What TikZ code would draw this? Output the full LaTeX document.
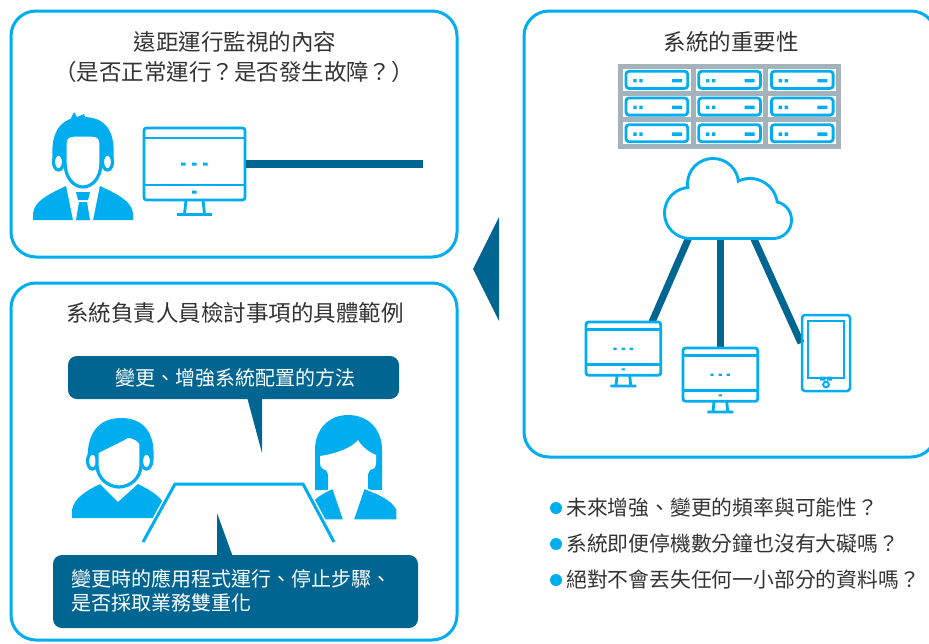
\documentclass[tikz,border=0pt]{standalone}
\usepackage{fontspec}
\setmainfont{Noto Sans CJK TC}
\definecolor{sky}{RGB}{0,174,239}
\definecolor{deep}{RGB}{0,102,145}
\definecolor{rackgray}{RGB}{164,178,188}
\definecolor{ink}{RGB}{51,51,51}

\tikzset{
  iconline/.style={draw=sky, line width=2.8pt},
  monitor/.pic={
    \draw[iconline, rounded corners=2.5pt] (0,0) rectangle (101,72);
    \draw[iconline] (0,10) -- (101,10) (0,57) -- (101,57);
    \fill[sky] (37,34.5) rectangle (41.5,37.5)
               (48,34.5) rectangle (52.5,37.5)
               (59,34.5) rectangle (63.5,37.5)
               (48,62.5) rectangle (52.5,65.5);
    \draw[iconline] (42,72) -- (40.5,86) (59,72) -- (60.5,86) (33,86.5) -- (68,86.5);
  },
  server/.pic={
    \fill[white] (0,0) rectangle (67.7,21.7);
    \draw[iconline, rounded corners=3pt] (3,2.3) rectangle (64.7,19.4);
    \fill[sky] (10.3,10) rectangle (13.7,13.4)
               (16.3,10) rectangle (19.7,13.4)
               (49,10) rectangle (59,13.4);
  },
}

\begin{document}
\begin{tikzpicture}[x=1pt, y=-1pt,
  panel/.style={draw=sky, line width=3pt, rounded corners=25pt},
  heading/.style={text=ink, inner sep=0pt, font=\fontsize{22.5}{27}\selectfont},
  bubbletext/.style={text=white, inner sep=0pt, font=\fontsize{20}{24}\selectfont},
  bullettext/.style={text=ink, inner sep=0pt, anchor=west, font=\fontsize{20.8}{25}\selectfont},
  link/.style={draw=deep, line width=7pt},
  bubble/.style={fill=deep, rounded corners=9pt},
  face/.style={fill=white, draw=sky, line width=3.2pt},
]
\useasboundingbox (0,0) rectangle (929,643);
\clip (0,0) rectangle (929,643);

% ---------- panel: remote monitoring ----------
\draw[panel] (11,11) rectangle (457,257);
\node[heading] (monTitleA) at (235,42) {遠距運行監視的內容};
\node[heading] (monTitleB) at (234,72) {（是否正常運行？是否發生故障？）};

% operator in suit
\fill[sky] (33,220) -- (33,213) .. controls (35,201) and (47,195) .. (66,186) -- (100,186)
  .. controls (119,195) and (131,201) .. (133,213) -- (133,220) -- cycle;
\fill[white] (66,185) -- (100,185) -- (93,220) -- (73,220) -- cycle;
\fill[sky] (76,192) -- (90,192) -- (88,200) -- (78,200) -- cycle;
\fill[sky] (79,202) -- (87,202) -- (90,220) -- (76,220) -- cycle;
\fill[sky] (53,163) .. controls (49,129) and (63,117) .. (83,117)
  .. controls (104,117) and (117,129) .. (113,163) -- cycle;
\fill[sky] (70,120) -- (74,112) -- (77,117) -- (84,114) -- (86,119) -- cycle;
\filldraw[face] (58.5,162) ellipse [x radius=5, y radius=8];
\filldraw[face] (107.5,162) ellipse [x radius=5, y radius=8];
\filldraw[face] (65,143) .. controls (65,137) and (69,135) .. (75,135) -- (91,135)
  .. controls (97,135) and (101,137) .. (101,143) -- (101,163)
  .. controls (101,178) and (92,187) .. (83,187) .. controls (74,187) and (65,178) .. (65,163) -- cycle;

% monitor and its network line
\pic at (144,128) {monitor};
\coordinate (monRight) at (246,164);
\coordinate (netEnd) at (423,164);
\draw[draw=deep, line width=8pt] (monRight) -- (netEnd);

% ---------- arrow between panels ----------
\fill[deep] (499,217) -- (473,269) -- (499,321) -- cycle;

% ---------- panel: importance of the system ----------
\draw[panel] (524,11) rectangle (936,457);
\node[heading] (sysTitle) at (731,42) {系統的重要性};

% server rack
\fill[rackgray] (618,64) rectangle (841,149);
\foreach \c in {0,1,2} {
  \foreach \r in {0,1,2} {
    \pic at ({623+\c*72.7},{69+\r*26.7}) {server};
  }
}

% links from the cloud to the devices
\coordinate (cloudL) at (693,228);
\coordinate (cloudM) at (720,228);
\coordinate (cloudR) at (749,228);
\coordinate (pcLeftTop) at (652,322);
\coordinate (pcMidTop) at (720,348);
\coordinate (tabletSide) at (801,343);
\draw[link] (cloudL) -- (pcLeftTop);
\draw[link] (cloudM) -- (pcMidTop);
\draw[link] (cloudR) -- (tabletSide);

% cloud: outline of the union of lobes, then white interior
\foreach \cx/\cy/\rr in {690/213/24, 713/184/24, 750/206/26, 773/220/17} {
  \fill[sky] (\cx,\cy) circle (\rr+3);
}
\fill[sky] (690,200) rectangle (773,240);
\foreach \cx/\cy/\rr in {690/213/24, 713/184/24, 750/206/26, 773/220/17} {
  \fill[white] (\cx,\cy) circle (\rr);
}
\fill[white] (690,200) rectangle (773,237);

% client devices
\pic[scale=0.74] at (586,322) {monitor};
\pic[scale=0.74] at (683,348) {monitor};
\draw[iconline, line width=2.5pt, rounded corners=3pt] (802,315) rectangle (850,391);
\draw[iconline, line width=2.5pt] (808,321) rectangle (844,378);
\fill[sky] (820,376.5) rectangle (825.3,380.5) (827,376.5) rectangle (832,380.5);
\draw[iconline, line width=2pt] (826,384.5) circle (2.8);

% ---------- questions ----------
\foreach \yy in {508,544,580} { \fill[sky] (556,\yy) circle (6); }
\node[bullettext] (qA) at (566,508) {未來增強、變更的頻率與可能性？};
\node[bullettext] (qB) at (566,544) {系統即便停機數分鐘也沒有大礙嗎？};
\node[bullettext] (qC) at (566,580) {絕對不會丟失任何一小部分的資料嗎？};

% ---------- panel: examples for the person in charge ----------
\draw[panel] (11,283) rectangle (457,640);
\node[heading] (exTitle) at (235,313) {系統負責人員檢討事項的具體範例};

% man
\fill[sky] (72,518) -- (72,510) .. controls (74,498) and (86,491) .. (100,484) -- (118,502)
  -- (138,484) .. controls (152,491) and (164,498) .. (166,510) -- (166,518) -- cycle;
\fill[sky] (88,465) .. controls (85,432) and (100,418) .. (121,418)
  .. controls (143,418) and (157,432) .. (153,465) -- cycle;
\filldraw[face] (92.5,461) ellipse [x radius=5, y radius=8];
\filldraw[face] (146.5,461) ellipse [x radius=5, y radius=8];
\filldraw[face] (97,452) .. controls (106,447) and (120,441) .. (128,436)
  .. controls (134,437) and (140,440) .. (141,444) -- (141,465)
  .. controls (141,478) and (130,487) .. (119,487) .. controls (108,487) and (97,478) .. (97,465) -- cycle;

% woman
\fill[sky] (315,490) -- (315,450) .. controls (315,428) and (330,415) .. (348,415)
  .. controls (367,415) and (382,428) .. (382,450) -- (382,490) -- (368,490) -- (368,470)
  -- (328,470) -- (328,490) -- cycle;
\fill[white] (320,456) .. controls (335,454) and (352,448) .. (358,440)
  .. controls (362,447) and (369,452) .. (376,455) -- (376,463)
  .. controls (376,468) and (373,470) .. (370,470) .. controls (366,480) and (357,485) .. (348,485)
  .. controls (339,485) and (330,480) .. (326,470) .. controls (323,470) and (320,467) .. (320,463) -- cycle;
\filldraw[fill=sky, draw=white, line width=1.5pt] (309,520) -- (309,508)
  .. controls (312,498) and (322,493) .. (333,488) -- (344,520) -- cycle;
\filldraw[fill=sky, draw=white, line width=1.5pt] (353,520) -- (364,488)
  .. controls (377,493) and (392,499) .. (397,509) -- (397,520) -- cycle;

% meeting table
\filldraw[fill=white, draw=white, line width=6pt] (143,542) -- (175,484) -- (303,484) -- (334,542) -- cycle;
\draw[draw=sky, line width=3pt] (143,542) -- (175,484) -- (303,484) -- (334,542);

% speech bubbles
\fill[bubble] (68,356) rectangle (399,399);
\fill[deep] (247,397) -- (262,453) -- (262,397) -- cycle;
\node[bubbletext] (sayA) at (235,378) {變更、增強系統配置的方法};

\fill[bubble] (53,555) rectangle (418,628);
\fill[deep] (217,557) -- (217,513) -- (233,557) -- cycle;
\node[bubbletext, anchor=west] (sayB1) at (71,579) {變更時的應用程式運行、停止步驟、};
\node[bubbletext, anchor=west] (sayB2) at (71,603) {是否採取業務雙重化};
\end{tikzpicture}
\end{document}
